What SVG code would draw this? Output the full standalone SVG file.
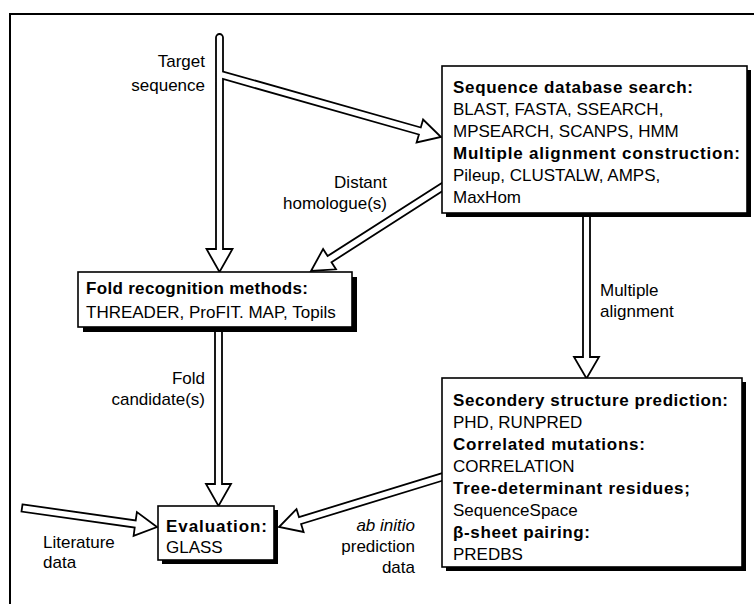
<svg xmlns="http://www.w3.org/2000/svg" width="754" height="604" viewBox="0 0 754 604">
<style>
text{font-family:"Liberation Sans",Arial,sans-serif;font-size:17px;fill:#000}
.b{font-weight:bold}
.r{text-anchor:end}
.it{font-style:italic}
.arrow{fill:#fff;stroke:#000;stroke-width:1.8;stroke-linejoin:miter}
.box{fill:#fff;stroke:#000;stroke-width:1.6}
.sh{fill:#000}
.frame{stroke:#000;stroke-width:2;fill:none}
</style>
<rect width="754" height="604" fill="#fff"/>
<path class="frame" d="M10,604 L10,14 L754,14"/>
<g id="connectors">
<path class="arrow" d="M216,249 L216,37.5 A3.5,3.5 0 0 1 223,37.5 L223,71.5 L420.8,127.5 L423.1,119.5 L441,137 L416.6,142.5 L418.9,134.5 L223,79 L223,249 L232.5,249 L219.5,272 L206.5,249 Z"/>
<path class="arrow" d="M443,182.3 L327.6,256.1 L323.1,249.0 L311,271 L336.0,269.3 L331.5,262.2 L443,190.8"/>
<path class="arrow" d="M583,214 L583,357 L574,357 L586.5,378.5 L599,357 L590,357 L590,214"/>
<path class="arrow" d="M215,328 L215,484 L206,484 L218.5,506 L231,484 L222,484 L222,328"/>
<path class="arrow" d="M22.5,504.4 L135.7,520.4 L136.9,512.1 L157,527 L133.6,535.8 L134.7,527.5 L21.5,511.6 Z"/>
<path class="arrow" d="M443,472.9 L299.0,517.1 L296.5,509.1 L279,527 L303.6,532.0 L301.1,524.0 L443,480.5"/>
<text class="r" x="205" y="67">Target</text>
<text class="r" x="205" y="91">sequence</text>
<text class="r" x="387" y="188">Distant</text>
<text class="r" x="387" y="209">homologue(s)</text>
<text x="600" y="296">Multiple</text>
<text x="600" y="317">alignment</text>
<text class="r" x="205" y="384">Fold</text>
<text class="r" x="205" y="405">candidate(s)</text>
<text x="43" y="548">Literature</text>
<text x="43" y="568">data</text>
<text class="r it" x="415" y="531">ab initio</text>
<text class="r" x="415" y="552">prediction</text>
<text class="r" x="415" y="573">data</text>
</g>
<g id="seqdb">
<rect class="sh" x="446" y="70" width="305" height="147"/>
<rect class="box" x="442" y="66" width="305" height="147"/>
<text class="b" x="453" y="93" textLength="240" lengthAdjust="spacing">Sequence database search:</text>
<text x="453" y="115">BLAST, FASTA, SSEARCH,</text>
<text x="453" y="137">MPSEARCH, SCANPS, HMM</text>
<text class="b" x="453" y="159" textLength="287" lengthAdjust="spacing">Multiple alignment construction:</text>
<text x="453" y="181">Pileup, CLUSTALW, AMPS,</text>
<text x="453" y="203">MaxHom</text>
</g>
<g id="fold">
<rect class="sh" x="83" y="277" width="274" height="55"/>
<rect class="box" x="78" y="272" width="274" height="55"/>
<text class="b" x="86" y="294" textLength="222" lengthAdjust="spacing">Fold recognition methods:</text>
<text x="86" y="318">THREADER, ProFIT. MAP, Topils</text>
</g>
<g id="evaluation">
<rect class="sh" x="162" y="510" width="116" height="54"/>
<rect class="box" x="158" y="506" width="116" height="54"/>
<text class="b" x="166" y="532" textLength="101" lengthAdjust="spacing">Evaluation:</text>
<text x="166" y="553">GLASS</text>
</g>
<g id="secondary">
<rect class="sh" x="446" y="382" width="300" height="189"/>
<rect class="box" x="442" y="378" width="300" height="189"/>
<text class="b" x="453" y="406" textLength="275" lengthAdjust="spacing">Secondery structure prediction:</text>
<text x="453" y="428">PHD, RUNPRED</text>
<text class="b" x="453" y="450" textLength="192" lengthAdjust="spacing">Correlated mutations:</text>
<text x="453" y="472">CORRELATION</text>
<text class="b" x="453" y="494" textLength="237" lengthAdjust="spacing">Tree-determinant residues;</text>
<text x="453" y="516">SequenceSpace</text>
<text class="b" x="453" y="538" textLength="137" lengthAdjust="spacing">β-sheet pairing:</text>
<text x="453" y="560">PREDBS</text>
</g>
</svg>
